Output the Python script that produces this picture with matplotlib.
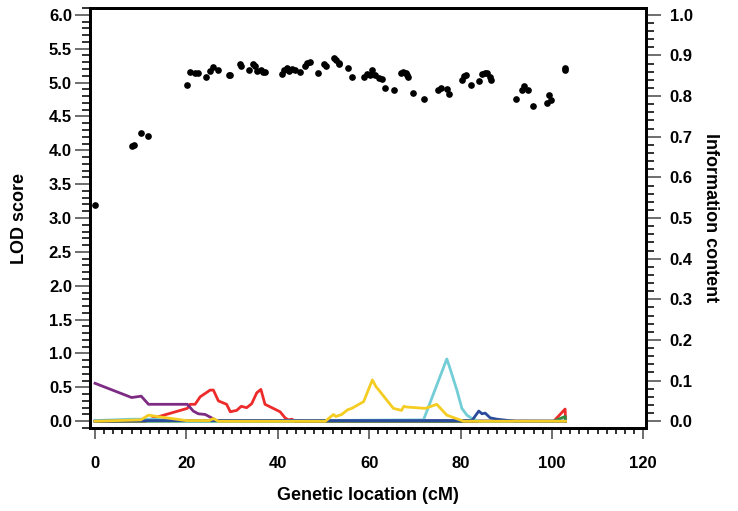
import matplotlib
matplotlib.use("Agg")
import matplotlib.pyplot as plt
from matplotlib.ticker import MultipleLocator, FormatStrFormatter

plt.rcParams['font.family'] = ['Liberation Sans', 'DejaVu Sans']
plt.rcParams['font.weight'] = 'bold'

# Information content (dots, right axis)
info_x = [0, 8.0, 8.5, 10.1, 11.5, 20.2, 20.8, 21.8, 22.6, 24.2, 25.1, 25.8, 26.9, 29.3, 29.5,
          31.7, 31.9, 33.7, 34.5, 35.0, 35.5, 36.3, 36.8, 37.3,
          41.0, 41.4, 42.0, 42.5, 43.2, 43.8, 44.9, 46.0, 46.5, 47.1, 48.8, 50.1, 50.5,
          52.2, 52.7, 53.3, 53.5, 55.3, 56.3, 58.9, 59.5, 60.1, 60.6, 61.3, 62.2, 62.8,
          63.4, 65.4, 66.9, 67.5, 68.0, 68.2, 68.5, 69.7, 72.0, 75.0, 75.8, 77.0, 77.4,
          80.4, 80.8, 81.2, 82.4, 84.1, 84.8, 85.4, 85.9, 86.5, 86.6,
          92.2, 93.4, 93.9, 94.7, 95.8, 98.9, 99.3, 99.8, 102.8, 102.8]
info_y = [0.533, 0.678, 0.679, 0.708, 0.701, 0.828, 0.860, 0.856, 0.857, 0.847, 0.861, 0.872, 0.865, 0.853, 0.852,
          0.878, 0.875, 0.863, 0.878, 0.873, 0.861, 0.865, 0.859, 0.859,
          0.854, 0.864, 0.868, 0.861, 0.867, 0.863, 0.859, 0.874, 0.882, 0.883, 0.856, 0.879, 0.874,
          0.893, 0.888, 0.882, 0.880, 0.868, 0.847, 0.847, 0.855, 0.851, 0.865, 0.851, 0.844, 0.841,
          0.820, 0.814, 0.857, 0.860, 0.857, 0.851, 0.846, 0.808, 0.793, 0.814, 0.819, 0.818, 0.806,
          0.840, 0.849, 0.851, 0.828, 0.838, 0.855, 0.857, 0.856, 0.847, 0.840,
          0.794, 0.814, 0.826, 0.815, 0.776, 0.783, 0.803, 0.791, 0.870, 0.864]

# LOD score curves (left axis)
cyan_x = [0, 4, 8, 12, 16, 20, 71.9, 77.0, 77.7, 79.2, 80.3, 81.4, 82.5, 84.0, 103]
cyan_y = [0.01, 0.02, 0.03, 0.03, 0.02, 0.0, 0.02, 0.92, 0.78, 0.46, 0.19, 0.09, 0.04, 0.0, 0.0]

blue_x = [0, 12, 20, 82.5, 84.0, 84.7, 85.4, 86.5, 88.0, 92.0, 103]
blue_y = [0.0, 0.01, 0.01, 0.01, 0.15, 0.11, 0.12, 0.05, 0.03, 0.0, 0.0]

green_x = [0, 100.4, 102.9, 103]
green_y = [0.0, 0.0, 0.07, 0.0]

purple_x = [0, 8.0, 10.1, 11.7, 20.2, 21.5, 22.6, 24.1, 25.8, 26.6, 30, 103]
purple_y = [0.56, 0.35, 0.37, 0.25, 0.25, 0.15, 0.11, 0.10, 0.04, 0.01, 0.01, 0.0]

red_x = [0, 11, 13.5, 20.2, 20.8, 21.9, 23.0, 25.2, 25.9, 27.0, 28.8, 29.6, 31.0, 32.0, 33.2,
         34.3, 35.4, 36.3, 37.2, 40.5, 41.6, 42.3, 43.1, 43.8, 100.4, 102.9, 103]
red_y = [0.0, 0.0, 0.06, 0.19, 0.25, 0.25, 0.36, 0.46, 0.46, 0.30, 0.25, 0.14, 0.16, 0.22, 0.20,
         0.26, 0.42, 0.47, 0.25, 0.14, 0.05, 0.02, 0.03, 0.0, 0.0, 0.18, 0.0]

yellow_x = [0, 10, 11.7, 13.5, 20, 25, 25.9, 27, 50.4, 52.2, 52.7, 54.0, 55.3, 56.2, 58.8,
            60.7, 61.5, 62.0, 65.3, 67.1, 67.6, 68.2, 72.3, 74.8, 77.0, 80.7, 103]
yellow_y = [0.0, 0.02, 0.09, 0.07, 0.01, 0.01, 0.04, 0.0, 0.0, 0.10, 0.07, 0.10, 0.17, 0.19, 0.29,
            0.61, 0.51, 0.47, 0.19, 0.16, 0.22, 0.21, 0.19, 0.25, 0.09, 0.0, 0.0]

fig = plt.figure(figsize=(7.38, 5.11), dpi=100)
ax = fig.add_axes([0.122, 0.1624, 0.7533, 0.8219])
ax2 = ax.twinx()

lw = 2.0
ax.plot(red_x, red_y, color='#EE2B2B', lw=lw)
ax.plot(purple_x, purple_y, color='#7D2B83', lw=lw)
ax.plot(green_x, green_y, color='#2E8B3E', lw=lw)
ax.plot(cyan_x, cyan_y, color='#72CDD6', lw=lw)
ax.plot(blue_x, blue_y, color='#2A4B9B', lw=lw)
ax.plot(yellow_x, yellow_y, color='#F4CC22', lw=lw)

ax2.plot(info_x, info_y, 'o', color='black', ms=3.8, mec='black')

ax.set_xlim(-1.1, 120.6)
ax.set_ylim(-0.1, 6.1)
ax2.set_ylim(-0.1 / 6, 6.1 / 6)

ax.xaxis.set_major_locator(MultipleLocator(20))
ax.xaxis.set_minor_locator(MultipleLocator(2))
ax.yaxis.set_major_locator(MultipleLocator(0.5))
ax.yaxis.set_minor_locator(MultipleLocator(0.1))
ax.yaxis.set_major_formatter(FormatStrFormatter('%.1f'))
ax2.yaxis.set_major_locator(MultipleLocator(0.1))
ax2.yaxis.set_minor_locator(MultipleLocator(0.02))
ax2.yaxis.set_major_formatter(FormatStrFormatter('%.1f'))

for a in (ax, ax2):
    for s in a.spines.values():
        s.set_linewidth(2.0)

ax.tick_params(axis='y', which='major', length=11, width=1.2, color='#555555', pad=2, labelsize=12)
ax.tick_params(axis='y', which='minor', length=6, width=1.3, color='#222222')
ax.tick_params(axis='x', which='major', length=8, width=1.2, color='#555555', pad=12, labelsize=12)
ax.tick_params(axis='x', which='minor', length=4, width=1.3, color='#222222')
ax2.tick_params(axis='y', which='major', length=11, width=1.2, color='#555555', pad=6, labelsize=12)
ax2.tick_params(axis='y', which='minor', length=6, width=1.3, color='#222222')

for lab in ax.get_xticklabels() + ax.get_yticklabels() + ax2.get_yticklabels():
    lab.set_fontweight('bold')

ax.set_xlabel('Genetic location (cM)', fontsize=13, fontweight='bold')
ax.set_ylabel('LOD score', fontsize=13, fontweight='bold')
ax2.set_ylabel('Information content', fontsize=13, fontweight='bold', rotation=270, va='center')
ax.xaxis.set_label_coords(0.5, -0.141)
ax.yaxis.set_label_coords(-0.111, 0.5)
ax2.yaxis.set_label_coords(1.116, 0.5)

fig.savefig('out.png', dpi=100)
